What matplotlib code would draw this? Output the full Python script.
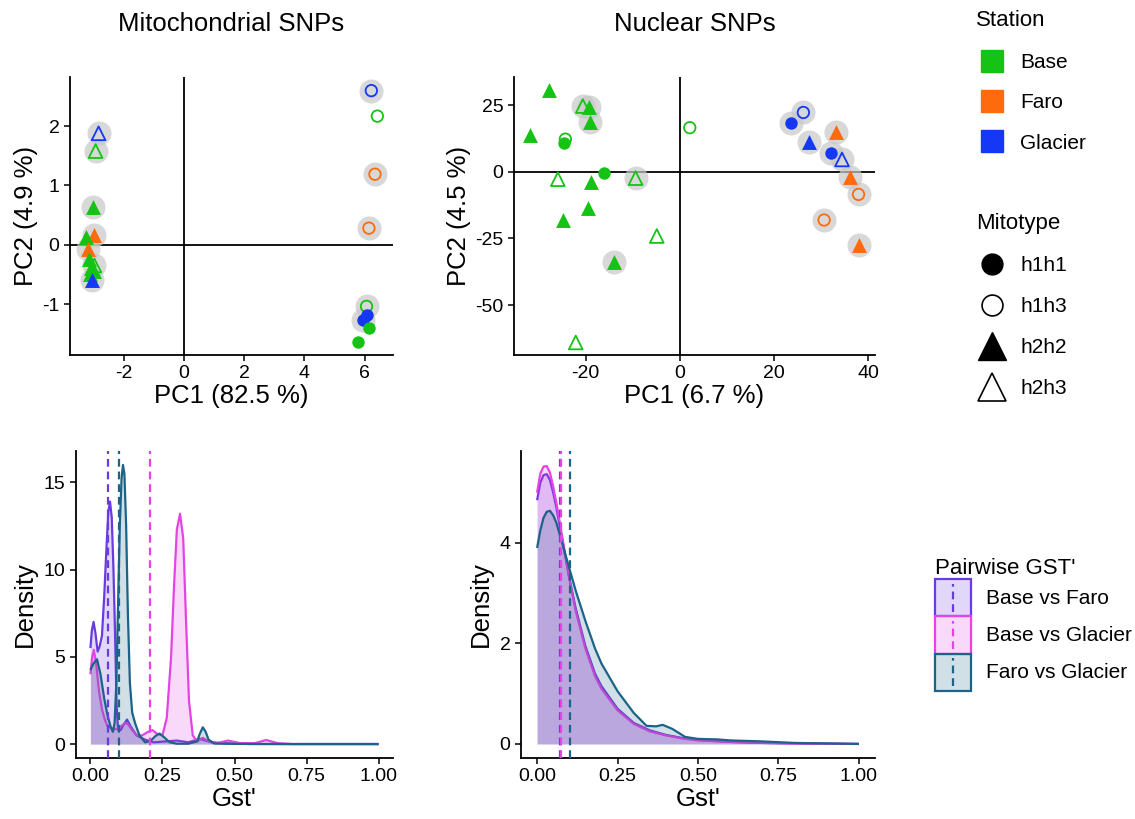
import matplotlib
matplotlib.use("Agg")
import matplotlib.pyplot as plt
from matplotlib.lines import Line2D
from matplotlib.patches import Patch, Rectangle
from matplotlib.legend_handler import HandlerBase

plt.rcParams['font.family'] = ['Liberation Sans', 'DejaVu Sans']
plt.rcParams['axes.unicode_minus'] = False

# ---------------- data ----------------
stations = ["Base", "Faro", "Glacier"]
station_colors = {"Base": "#14C314", "Faro": "#FF6A0D", "Glacier": "#1438F5"}
mitotypes = ["h1h1", "h1h3", "h2h2", "h2h3"]

# Mitochondrial PCA
mt_pc1 = [-2.84, -2.94, -3.03, -3.00, -3.27, -3.20, -3.16, -2.98, -3.08, -3.00, -3.12, -3.05,
          6.22, 6.42, 6.34, 6.14, 6.06, 5.95, 6.09, 6.14, 5.79]
mt_pc2 = [1.88, 1.58, 0.63, 0.16, 0.13, -0.07, -0.24, -0.35, -0.40, -0.45, -0.49, -0.60,
          2.60, 2.17, 1.19, 0.28, -1.04, -1.27, -1.18, -1.40, -1.64]
mt_station = ["Glacier", "Base", "Base", "Faro", "Base", "Faro", "Base", "Base", "Base", "Base", "Base", "Glacier",
              "Glacier", "Base", "Faro", "Faro", "Base", "Glacier", "Glacier", "Base", "Base"]
mt_type = ["h2h3", "h2h3", "h2h2", "h2h2", "h2h2", "h2h2", "h2h2", "h2h3", "h2h2", "h2h2", "h2h2", "h2h2",
           "h1h3", "h1h3", "h1h3", "h1h3", "h1h3", "h1h1", "h1h1", "h1h1", "h1h1"]
mt_halo = [1, 1, 1, 1, 0, 1, 0, 1, 0, 0, 0, 1,
           1, 0, 1, 1, 1, 1, 0, 0, 0]

# Nuclear PCA
nu_pc1 = [-27.7, -20.6, -19.3, -19.1, -31.7, -24.3, -24.6, -16.2, -25.9, -18.9, -9.4, -19.6, -24.8,
          -14.0, -22.1, -4.9, 2.1, 26.2, 23.5, 33.1, 27.5, 32.1, 34.4, 36.0, 37.9, 30.6, 37.9]
nu_pc2 = [30.8, 24.6, 24.3, 18.7, 13.7, 12.2, 10.6, -0.6, -2.8, -3.7, -2.4, -13.7, -18.1,
          -33.7, -64.0, -24.1, 16.5, 22.2, 18.1, 15.0, 11.2, 7.1, 4.6, -1.9, -8.5, -18.1, -27.4]
nu_station = ["Base"] * 17 + ["Glacier", "Glacier", "Faro", "Glacier", "Glacier", "Glacier",
                              "Faro", "Faro", "Faro", "Faro"]
nu_type = ["h2h2", "h2h3", "h2h2", "h2h2", "h2h2", "h1h3", "h1h1", "h1h1", "h2h3", "h2h2", "h2h3", "h2h2", "h2h2",
           "h2h2", "h2h3", "h2h3", "h1h3", "h1h3", "h1h1", "h2h2", "h2h2", "h1h1", "h2h3",
           "h2h2", "h1h3", "h1h3", "h2h2"]
nu_halo = [0, 1, 1, 1, 0, 0, 0, 0, 0, 0, 1, 0, 0,
           1, 0, 0, 0, 1, 1, 1, 1, 1, 1, 1, 1, 1, 1]

# Pairwise GST' densities
pairs = ["Base vs Faro", "Base vs Glacier", "Faro vs Glacier"]
pair_colors = {"Base vs Faro": "#6A3BE0", "Base vs Glacier": "#E444E4", "Faro vs Glacier": "#1B6387"}

mito_bvf_x = [0.000, 0.005, 0.011, 0.018, 0.025, 0.032, 0.040, 0.048, 0.055, 0.062, 0.068, 0.074, 0.080, 0.086,
              0.091, 0.096, 0.105, 0.115, 0.127, 0.140, 0.160, 0.190, 0.220, 0.260, 0.300, 0.340, 0.380, 0.420,
              0.460, 0.550, 0.700, 1.000]
mito_bvf_y = [5.5, 6.5, 7.0, 6.3, 5.3, 5.6, 6.2, 8.5, 11.0, 13.3, 13.9, 13.0, 10.0, 6.0,
              2.2, 0.8, 0.8, 1.1, 1.4, 1.0, 0.5, 0.25, 0.1, 0.15, 0.2, 0.1, 0.3, 0.1,
              0.05, 0.0, 0.0, 0.0]
mito_bvg_x = [0.000, 0.006, 0.012, 0.020, 0.030, 0.040, 0.050, 0.060, 0.075, 0.090, 0.105, 0.120, 0.130, 0.145,
              0.160, 0.180, 0.200, 0.215, 0.230, 0.250, 0.265, 0.280, 0.290, 0.300, 0.311, 0.322, 0.332, 0.342,
              0.355, 0.370, 0.390, 0.410, 0.440, 0.477, 0.520, 0.570, 0.610, 0.650, 0.700, 1.000]
mito_bvg_y = [4.0, 5.0, 5.4, 4.6, 3.0, 2.0, 1.4, 1.0, 0.9, 0.85, 1.0, 1.2, 1.15, 0.8,
              0.5, 0.5, 0.7, 0.8, 0.6, 0.5, 1.5, 5.0, 9.0, 12.3, 13.2, 11.8, 7.0, 2.5,
              0.5, 0.15, 0.35, 0.15, 0.05, 0.2, 0.05, 0.05, 0.23, 0.05, 0.0, 0.0]
mito_fvg_x = [0.000, 0.010, 0.023, 0.035, 0.048, 0.060, 0.070, 0.078, 0.084, 0.090, 0.096, 0.102, 0.108, 0.113,
              0.118, 0.124, 0.130, 0.137, 0.145, 0.155, 0.170, 0.190, 0.210, 0.225, 0.240, 0.255, 0.275, 0.300,
              0.340, 0.370, 0.380, 0.390, 0.400, 0.410, 0.430, 0.500, 0.700, 1.000]
mito_fvg_y = [4.25, 4.6, 4.86, 4.0, 2.6, 1.6, 1.0, 0.7, 1.2, 3.5, 8.0, 12.5, 15.2, 16.0,
              15.5, 12.5, 7.5, 3.5, 1.8, 1.2, 0.5, 0.1, 0.2, 0.45, 0.6, 0.4, 0.1, 0.02,
              0.02, 0.15, 0.6, 0.96, 0.7, 0.25, 0.03, 0.01, 0.0, 0.0]
mito_means = [0.0625, 0.208, 0.098]

nuc_x = [0.0, 0.01, 0.02, 0.03, 0.04, 0.05, 0.06, 0.08, 0.10, 0.12, 0.15, 0.18, 0.20, 0.25, 0.30,
         0.35, 0.40, 0.45, 0.50, 0.60, 0.70, 0.80, 0.90, 1.0]
nuc_bvf_y = [4.85, 5.2, 5.35, 5.37, 5.25, 5.0, 4.7, 4.0, 3.3, 2.7, 1.95, 1.4, 1.15, 0.7, 0.42,
             0.27, 0.18, 0.12, 0.08, 0.04, 0.02, 0.01, 0.005, 0.0]
nuc_bvg_y = [5.0, 5.38, 5.52, 5.53, 5.4, 5.12, 4.8, 4.05, 3.3, 2.65, 1.9, 1.35, 1.1, 0.67, 0.4,
             0.25, 0.17, 0.11, 0.07, 0.04, 0.02, 0.01, 0.005, 0.0]
nuc_fvg_x = [0.0, 0.01, 0.02, 0.03, 0.04, 0.05, 0.06, 0.08, 0.10, 0.12, 0.15, 0.18, 0.20, 0.25, 0.30,
             0.34, 0.37, 0.39, 0.42, 0.46, 0.50, 0.56, 0.60, 0.70, 0.80, 0.90, 1.0]
nuc_fvg_y = [3.9, 4.25, 4.5, 4.62, 4.64, 4.55, 4.4, 3.95, 3.5, 3.05, 2.45, 1.9, 1.6, 1.05, 0.62,
             0.36, 0.35, 0.38, 0.3, 0.14, 0.1, 0.09, 0.07, 0.05, 0.02, 0.01, 0.0]
nuc_means = [0.070, 0.074, 0.101]

# ---------------- figure ----------------
W, H = 1135, 819
fig = plt.figure(figsize=(W / 100, H / 100), dpi=100)


def px_axes(l, t, r, b):
    return fig.add_axes([l / W, 1 - b / H, (r - l) / W, (b - t) / H])


TICK_FS = 14
LAB_FS = 18.5


def style(ax):
    for s in ["top", "right"]:
        ax.spines[s].set_visible(False)
    for s in ["left", "bottom"]:
        ax.spines[s].set_linewidth(1.3)
    ax.tick_params(direction="out", length=4, width=1.1, labelsize=TICK_FS, colors="black")
    ax.tick_params(axis="x", pad=3)


marker_of = {"h1h1": ("o", True), "h1h3": ("o", False), "h2h2": ("^", True), "h2h3": ("^", False)}


def pca(ax, x, y, st, ty, halo):
    ax.axhline(0, color="black", lw=1.3, zorder=1)
    ax.axvline(0, color="black", lw=1.3, zorder=1)
    hx = [a for a, h in zip(x, halo) if h]
    hy = [b for b, h in zip(y, halo) if h]
    ax.scatter(hx, hy, s=300, color="#C8C8C8", alpha=0.7, lw=0, zorder=2)
    for xi, yi, s, t in zip(x, y, st, ty):
        m, filled = marker_of[t]
        c = station_colors[s]
        size = 80 if m == "o" else 115
        if filled:
            ax.scatter([xi], [yi], s=size, marker=m, color=c, lw=0, zorder=3)
        else:
            ax.scatter([xi], [yi], s=size * 0.85, marker=m, facecolor="none", edgecolor=c, lw=1.3, zorder=3)
    style(ax)


# top left
ax1 = px_axes(70, 77, 393, 355)
pca(ax1, mt_pc1, mt_pc2, mt_station, mt_type, mt_halo)
ax1.set_xlim(-3.79, 6.94)
ax1.set_ylim(-1.86, 2.83)
ax1.set_xticks([-2, 0, 2, 4, 6])
ax1.set_yticks([-1, 0, 1, 2])
ax1.set_xlabel("PC1 (82.5 %)", fontsize=LAB_FS, labelpad=2)
ax1.set_ylabel("PC2 (4.9 %)", fontsize=LAB_FS, labelpad=3)
ax1.set_title("Mitochondrial SNPs", fontsize=LAB_FS, pad=33)

# top right
ax2 = px_axes(514, 77, 875, 355)
pca(ax2, nu_pc1, nu_pc2, nu_station, nu_type, nu_halo)
ax2.set_xlim(-35.2, 41.4)
ax2.set_ylim(-68.7, 35.5)
ax2.set_xticks([-20, 0, 20, 40])
ax2.set_yticks([-50, -25, 0, 25])
ax2.set_xlabel("PC1 (6.7 %)", fontsize=LAB_FS, labelpad=2)
ax2.set_ylabel("PC2 (4.5 %)", fontsize=LAB_FS, labelpad=3)
ax2.set_title("Nuclear SNPs", fontsize=LAB_FS, pad=33)


def dens(ax, series, means):
    for (name, xs, ys) in series:
        c = pair_colors[name]
        ax.fill_between(xs, 0, ys, color=c, alpha=0.2, lw=0, zorder=2)
        ax.plot(xs, ys, color=c, lw=1.6, zorder=2, solid_capstyle="butt")
    for name, m in zip(pairs, means):
        ax.axvline(m, color=pair_colors[name], lw=1.6, ls=(0, (3.5, 2.2)), zorder=3)
    style(ax)
    ax.set_xlim(-0.05, 1.05)
    ax.set_xticks([0, 0.25, 0.5, 0.75, 1.0])
    ax.set_xticklabels(["0.00", "0.25", "0.50", "0.75", "1.00"])
    ax.set_xlabel("Gst'", fontsize=LAB_FS, labelpad=2)
    ax.set_ylabel("Density", fontsize=LAB_FS, labelpad=5)


ax3 = px_axes(76, 451, 393, 758)
dens(ax3, [("Base vs Faro", mito_bvf_x, mito_bvf_y),
           ("Base vs Glacier", mito_bvg_x, mito_bvg_y),
           ("Faro vs Glacier", mito_fvg_x, mito_fvg_y)], mito_means)
ax3.set_ylim(-0.8, 16.8)
ax3.set_yticks([0, 5, 10, 15])

ax4 = px_axes(521, 451, 875, 758)
dens(ax4, [("Base vs Faro", nuc_x, nuc_bvf_y),
           ("Base vs Glacier", nuc_x, nuc_bvg_y),
           ("Faro vs Glacier", nuc_fvg_x, nuc_fvg_y)], nuc_means)
ax4.set_ylim(-0.28, 5.83)
ax4.set_yticks([0, 2, 4])

# ---------------- legends ----------------
LEG_FS = 15
st_handles = [Line2D([], [], ls="none", marker="s", markersize=15.5, color=station_colors[s]) for s in stations]
leg1 = fig.legend(st_handles, stations, title="Station", loc="upper left", bbox_to_anchor=(966 / W, 1 - 0 / H),
                  frameon=False, fontsize=LEG_FS, title_fontsize=16, labelspacing=1.03, handletextpad=0.6,
                  borderpad=0, alignment="left", handlelength=1.5)

mt_handles = []
for t in mitotypes:
    m, filled = marker_of[t]
    ms = 15 if m == "o" else 20
    if filled:
        mt_handles.append(Line2D([], [], ls="none", marker=m, markersize=ms, color="black"))
    else:
        mt_handles.append(Line2D([], [], ls="none", marker=m, markersize=ms, markerfacecolor="none",
                                 markeredgecolor="black", markeredgewidth=1.2))
leg2 = fig.legend(mt_handles, mitotypes, title="Mitotype", loc="upper left", bbox_to_anchor=(966 / W, 1 - 203 / H),
                  frameon=False, fontsize=LEG_FS, title_fontsize=16, labelspacing=1.05, handletextpad=0.6,
                  borderpad=0, alignment="left", handlelength=1.5)


class BoxDash(HandlerBase):
    def create_artists(self, legend, orig_handle, xdescent, ydescent, width, height, fontsize, trans):
        ec = orig_handle.get_edgecolor()
        r = Rectangle((-xdescent, -ydescent), width, height, facecolor=orig_handle.get_facecolor(),
                      edgecolor=ec, lw=1.6, transform=trans)
        l = Line2D([-xdescent + width / 2] * 2, [-ydescent + 3, -ydescent + height - 3], color=ec,
                   lw=1.6, ls=(0, (3.5, 2.2)), transform=trans)
        return [r, l]


pg_handles = [Patch(facecolor=matplotlib.colors.to_rgba(pair_colors[p], 0.2), edgecolor=pair_colors[p]) for p in pairs]
leg3 = fig.legend(pg_handles, pairs, title="Pairwise GST'", loc="upper left", bbox_to_anchor=(925 / W, 1 - 548 / H),
                  frameon=False, fontsize=LEG_FS, title_fontsize=16, labelspacing=0.0, handletextpad=0.7,
                  borderpad=0, alignment="left", handlelength=1.72, handleheight=2.36,
                  handler_map={Patch: BoxDash()})

fig.savefig("out.png", dpi=100)
